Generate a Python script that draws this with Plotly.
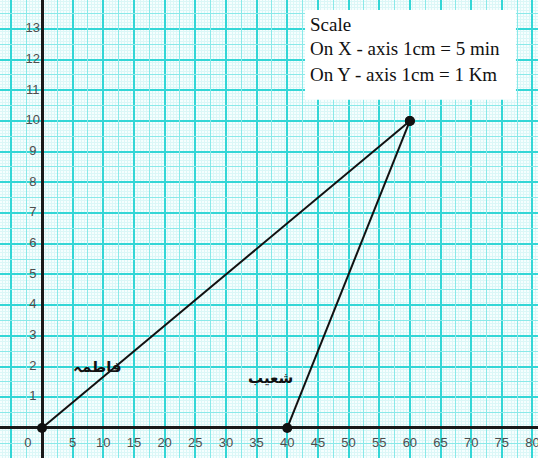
import plotly.graph_objects as go

# Distance-time data (x: minutes, y: km)
fatima_time = [0, 60]
fatima_dist = [0, 10]
shoaib_time = [40, 60]
shoaib_dist = [0, 10]

x_ticks = [0, 5, 10, 15, 20, 25, 30, 35, 40, 45, 50, 55, 60, 65, 70, 75, 80]
y_ticks = [1, 2, 3, 4, 5, 6, 7, 8, 9, 10, 11, 12, 13]

scale_lines = ["Scale", "On X - axis 1cm = 5 min", "On Y - axis 1cm = 1 Km"]

x_range = [-6.85, 80.9]
y_range = [-0.98, 13.94]

fig = go.Figure()

# black lines with dots
fig.add_trace(go.Scatter(x=fatima_time, y=fatima_dist, mode="lines+markers",
                         line=dict(color="#111111", width=2),
                         marker=dict(color="#111111", size=10), hoverinfo="skip"))
fig.add_trace(go.Scatter(x=shoaib_time, y=shoaib_dist, mode="lines+markers",
                         line=dict(color="#111111", width=2),
                         marker=dict(color="#111111", size=10), hoverinfo="skip"))

# tick labels sit inside the graph paper, next to the axes
fig.add_trace(go.Scatter(
    x=[v if v != 0 else -2.3 for v in x_ticks], y=[-0.5] * len(x_ticks),
    text=[str(v) for v in x_ticks], mode="text", cliponaxis=False,
    textfont=dict(family="Liberation Sans, Arial", size=13, color="#4d4d4d"),
    hoverinfo="skip"))
fig.add_trace(go.Scatter(
    x=[-1.5] * len(y_ticks), y=y_ticks,
    text=[str(v) for v in y_ticks], mode="text",
    textfont=dict(family="Liberation Sans, Arial", size=13, color="#4d4d4d"),
    hoverinfo="skip"))

# graph paper: mm lines as minor grid, cm lines as major grid
fig.update_xaxes(range=x_range, dtick=5, tick0=0, showgrid=True,
                 gridcolor="#33d6d6", gridwidth=1.8,
                 minor=dict(dtick=0.5, showgrid=True, gridcolor="#dbf7f7", gridwidth=1),
                 zeroline=True, zerolinecolor="#1a1a1a", zerolinewidth=2.5,
                 showticklabels=False, ticks="", fixedrange=True)
fig.update_yaxes(range=y_range, dtick=1, tick0=0, showgrid=True,
                 gridcolor="#33d6d6", gridwidth=1.8,
                 minor=dict(dtick=0.1, showgrid=True, gridcolor="#dbf7f7", gridwidth=1),
                 zeroline=True, zerolinecolor="#1a1a1a", zerolinewidth=2.5,
                 showticklabels=False, ticks="", fixedrange=True)

# half-cm lines on an overlay axis pair
fig.update_layout(
    xaxis2=dict(overlaying="x", range=x_range, tick0=2.5, dtick=5, showgrid=True,
                gridcolor="#8ae9e9", gridwidth=1, zeroline=False,
                showticklabels=False, ticks="", fixedrange=True),
    yaxis2=dict(overlaying="y", range=y_range, tick0=0.5, dtick=1, showgrid=True,
                gridcolor="#8ae9e9", gridwidth=1, zeroline=False,
                showticklabels=False, ticks="", fixedrange=True),
)
fig.add_trace(go.Scatter(x=[None], y=[None], xaxis="x2", yaxis="y2",
                         showlegend=False, hoverinfo="skip"))

# Urdu names next to the lines
fig.add_annotation(x=9, y=2.0, text="<b>فاطمہ</b>", showarrow=False,
                   font=dict(family="DejaVu Sans", size=15, color="#111111"))
fig.add_annotation(x=37.2, y=1.63, text="<b>شعیب</b>", showarrow=False,
                   font=dict(family="DejaVu Sans", size=15, color="#111111"))

# scale box
fig.add_shape(type="rect", xref="paper", yref="paper",
              x0=0.567, x1=0.959, y0=0.782, y1=0.978,
              fillcolor="white", line=dict(width=0), layer="above")
for i, line in enumerate(scale_lines):
    fig.add_annotation(xref="paper", yref="paper", x=0.572,
                       y=1 - (24 + 25 * i) / 458, xanchor="left", yanchor="middle",
                       text=line, showarrow=False,
                       font=dict(family="Liberation Serif, Times New Roman", size=19,
                                 color="#111111"))

fig.update_layout(
    width=538, height=458,
    margin=dict(l=0, r=0, t=0, b=0),
    paper_bgcolor="white", plot_bgcolor="#f6fefe",
    showlegend=False,
)

fig.write_html("out.html", config={"displayModeBar": False},
               post_script="document.body.style.margin='0';")
